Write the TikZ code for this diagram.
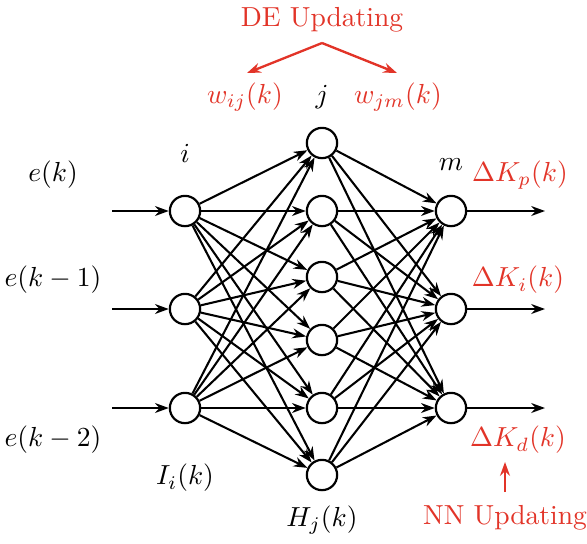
\documentclass[tikz,border=0pt]{standalone}
\usepackage{amsmath}
\usetikzlibrary{arrows.meta}
\definecolor{updred}{RGB}{226,52,40}

\begin{document}
\begin{tikzpicture}[x=0.363pt, y=-0.363pt,
		>={Stealth[length=5pt,width=3.6pt]},   % arrow tips
		neuron/.style={draw, circle, line width=0.8pt, minimum size=11pt, inner sep=0pt},
		link/.style={->, line width=0.75pt},
		upd/.style={updred},
		font=\normalsize]
	\useasboundingbox (0,0) rectangle (587,543);
	% input layer
	\foreach \n/\y in {1/211, 2/309, 3/408}
		\node[neuron] (i\n) at (185,\y) {};
	% hidden layer
	\foreach \n/\y in {1/143, 2/211, 3/277, 4/340, 5/408, 6/475}
		\node[neuron] (h\n) at (322,\y) {};
	% output layer
	\foreach \n/\y in {1/211, 2/309, 3/408}
		\node[neuron] (o\n) at (451,\y) {};
	% external inputs and outputs
	\foreach \n/\y in {1/211, 2/309, 3/408} {
		\coordinate (in\n) at (112,\y);
		\coordinate (out\n) at (545,\y);
		\draw[link] (in\n) -- (i\n);
		\draw[link] (o\n) -- (out\n);
	}
	% weights
	\foreach \a in {1,2,3}
		\foreach \b in {1,...,6}
			\draw[link] (i\a) -- (h\b);
	\foreach \b in {1,...,6}
		\foreach \c in {1,2,3}
			\draw[link] (h\b) -- (o\c);
	% labels
	\node (ek) at (53,175) {$e(k)$};
	\node (ek1) at (53,280) {$e(k-1)$};
	\node (ek2) at (53,440) {$e(k-2)$};
	\node (li) at (185,153) {$i$};
	\node (lj) at (322,97) {$j$};
	\node (lm) at (451,165) {$m$};
	\node (Ii) at (185,478) {$I_i(k)$};
	\node (Hj) at (322,520) {$H_j(k)$};
	\node[upd] (wij) at (245,97) {$w_{ij}(k)$};
	\node[upd] (wjm) at (398,97) {$w_{jm}(k)$};
	\node[upd] (Kp) at (520,175) {$\Delta K_p(k)$};
	\node[upd] (Ki) at (518,280) {$\Delta K_i(k)$};
	\node[upd] (Kd) at (518,440) {$\Delta K_d(k)$};
	% updating
	\node[upd] (de) at (322,20) {DE Updating};
	\node[upd] (nn) at (505,518) {NN Updating};
	\coordinate (detop) at (322,43);
	\coordinate (nnbot) at (505,492);
	\draw[upd, link, line width=0.85pt] (detop) -- (247,73);
	\draw[upd, link, line width=0.85pt] (detop) -- (397,73);
	\draw[upd, link, line width=0.85pt] (nnbot) -- (505,462);
\end{tikzpicture}
\end{document}
